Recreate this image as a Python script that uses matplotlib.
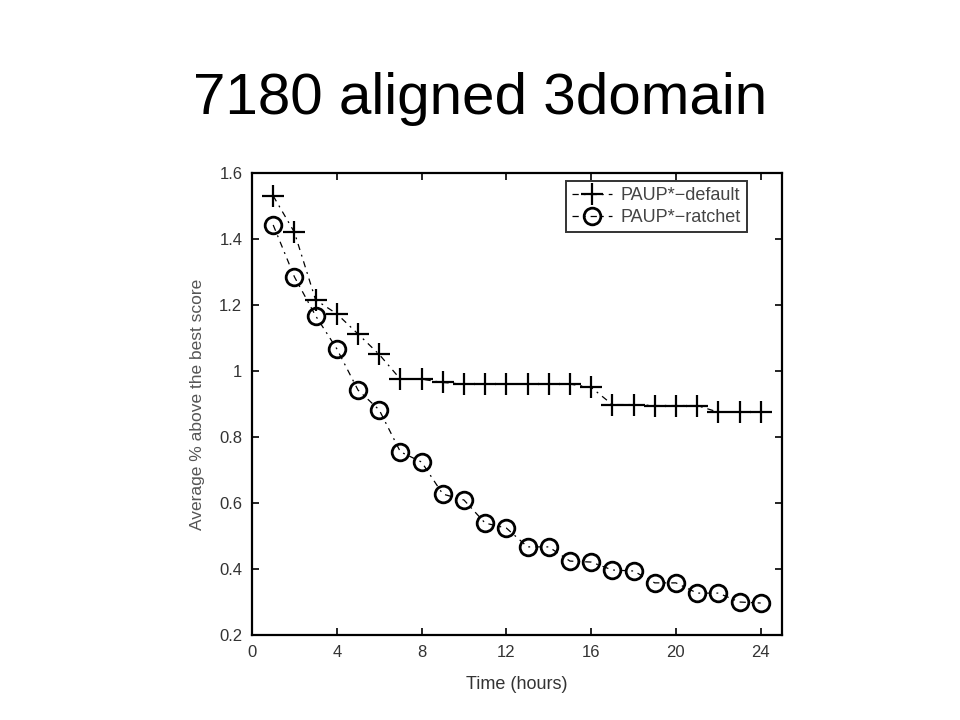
import matplotlib
matplotlib.use('Agg')
import matplotlib.pyplot as plt

hours = list(range(1, 25))
paup_default = [1.53, 1.42, 1.215, 1.173, 1.112, 1.05, 0.975, 0.975, 0.965, 0.96,
                0.96, 0.96, 0.96, 0.96, 0.96, 0.95, 0.898, 0.898, 0.895, 0.895,
                0.895, 0.875, 0.875, 0.875]
paup_ratchet = [1.442, 1.285, 1.167, 1.067, 0.942, 0.882, 0.755, 0.724, 0.627, 0.609,
                0.539, 0.524, 0.467, 0.467, 0.424, 0.421, 0.397, 0.394, 0.358, 0.358,
                0.327, 0.327, 0.300, 0.297]
xticks = [0, 4, 8, 12, 16, 20, 24]
yticks = [0.2, 0.4, 0.6, 0.8, 1.0, 1.2, 1.4, 1.6]
yticklabels = ['0.2', '0.4', '0.6', '0.8', '1', '1.2', '1.4', '1.6']

plt.rcParams['font.family'] = ['Liberation Sans', 'DejaVu Sans']

fig = plt.figure(figsize=(9.6, 7.2), dpi=100)
fig.text(0.5, 0.862, '7180 aligned 3domain', ha='center', va='center', fontsize=42)

ax = fig.add_axes([0.2625, 0.118, 0.552, 0.642])
# dash-dot look of the old matlab export
ax.plot(hours, paup_default, linestyle=(0, (5, 4, 1.5, 4)), color='black', linewidth=0.9,
        marker='+', markersize=16, markeredgewidth=1.6, label='PAUP*\u2212default')
ax.plot(hours, paup_ratchet, linestyle=(0, (5, 4, 1.5, 4)), color='black', linewidth=0.9,
        marker='o', markersize=12, markeredgewidth=2, markerfacecolor='none',
        label='PAUP*\u2212ratchet')

ax.set_xlim(0, 25)
ax.set_ylim(0.2, 1.6)
ax.set_xticks(xticks)
ax.set_yticks(yticks)
ax.set_yticklabels(yticklabels)
ax.tick_params(direction='in', top=True, right=True, length=5, width=1.2,
               labelsize=12, labelcolor='#333333', pad=7)
for s in ax.spines.values():
    s.set_linewidth(1.6)

ax.set_xlabel('Time (hours)', fontsize=13, color='#333333', labelpad=12)
ax.set_ylabel('Average % above the best score', fontsize=12.5, color='#555555', labelpad=10)

leg = ax.legend(loc='upper right', bbox_to_anchor=(0.935, 0.982), fontsize=13,
                frameon=True, fancybox=False, edgecolor='black', handlelength=2.2,
                handletextpad=0.5, borderpad=0.35, labelspacing=0.25, borderaxespad=0)
leg.get_frame().set_linewidth(1.4)
for t in leg.get_texts():
    t.set_color('#444444')

fig.savefig('out.png', dpi=100)
